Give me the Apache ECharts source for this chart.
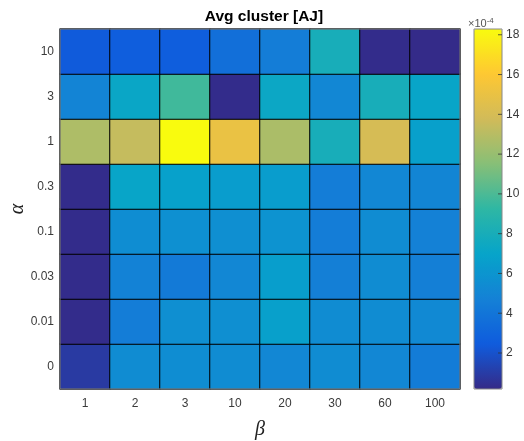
<!DOCTYPE html>
<html>
<head>
<meta charset="utf-8">
<script src="https://cdn.jsdelivr.net/npm/echarts@6/dist/echarts.min.js"></script>
<style>html,body{margin:0;padding:0;background:#fff}#c{width:524px;height:441px}</style>
</head>
<body>
<div id="c"></div>
<script>
// beta categories (x), alpha categories (y, bottom to top)
const betaLabels = ['1', '2', '3', '10', '20', '30', '60', '100'];
const alphaLabels = ['0', '0.01', '0.03', '0.1', '0.3', '1', '3', '10'];
// values x1e-4, rows from alpha=0 (bottom) to alpha=10 (top)
const row_0    = [0.9, 5.4, 5.5, 5.4, 5.1, 5.4, 5.1, 4.4];
const row_001  = [0.3, 4.5, 5.6, 5.6, 6.7, 5.4, 5.4, 5.2];
const row_003  = [0.3, 4.8, 4.3, 5.1, 6.6, 4.6, 5.4, 4.6];
const row_01   = [0.3, 5.5, 5.7, 5.6, 5.9, 4.5, 5.4, 4.7];
const row_03   = [0.3, 7.1, 6.8, 6.5, 6.5, 4.5, 5.1, 5.0];
const row_1    = [12.7, 13.4, 18.29, 15.0, 12.6, 8.0, 14.0, 6.7];
const row_3    = [4.9, 7.2, 9.7, 0.3, 7.3, 5.1, 8.0, 7.1];
const row_10   = [2.4, 2.6, 2.6, 3.6, 4.5, 8.0, 0.3, 0.25];
const rows = [row_0, row_001, row_003, row_01, row_03, row_1, row_3, row_10];
// colorbar range and ticks (x1e-4)
const cbMin = 0.19, cbMax = 18.29;
const cbTicks = [2, 4, 6, 8, 10, 12, 14, 16, 18];
const parula = ['#352A87', '#0F5CDD', '#1481D6', '#06A4CA', '#2EB7A4', '#87BF77', '#D1BB59', '#FEC832', '#F9FB0E'];

const data = [];
rows.forEach((r, yi) => r.forEach((v, xi) => data.push([xi, yi, v])));
const tickMarks = cbTicks.map(t => [1, t]);

const chart = echarts.init(document.getElementById('c'), null, {renderer: 'canvas'});
const labelColor = '#3a3a3a';
chart.setOption({
  animation: false,
  backgroundColor: '#fff',
  title: {
    text: 'Avg cluster [AJ]', left: 259, top: 4, textAlign: 'center',
    textStyle: {fontFamily: 'Liberation Sans', fontSize: 15.5, fontWeight: 'bold', color: '#000'}
  },
  grid: [
    {left: 60, right: 64, top: 29, bottom: 52, show: true, borderColor: '#888', borderWidth: 1,
     backgroundColor: 'transparent', z: 3, containLabel: false, outerBoundsMode: 'none'},
    {left: 474, right: 22, top: 29, bottom: 52, show: true, borderColor: '#888', borderWidth: 1,
     backgroundColor: 'transparent', z: 10, containLabel: false, outerBoundsMode: 'none'}
  ],
  xAxis: [
    {type: 'category', data: betaLabels, gridIndex: 0,
     axisLine: {show: false}, axisTick: {show: false}, splitLine: {show: false},
     axisLabel: {color: labelColor, fontFamily: 'Liberation Sans', fontSize: 12, margin: 9},
     name: 'β', nameLocation: 'middle', nameGap: 31, nameMoveOverlap: false,
     nameTextStyle: {fontFamily: 'Liberation Serif', fontStyle: 'italic', fontSize: 20, color: '#222'}},
    {type: 'value', gridIndex: 1, show: false, min: 0, max: 1}
  ],
  yAxis: [
    {type: 'category', data: alphaLabels, gridIndex: 0,
     axisLine: {show: false}, axisTick: {show: false}, splitLine: {show: false},
     axisLabel: {color: labelColor, fontFamily: 'Liberation Sans', fontSize: 12, margin: 6},
     name: 'α', nameLocation: 'middle', nameGap: 32, nameRotate: 90, nameMoveOverlap: false,
     nameTextStyle: {fontFamily: 'Liberation Serif', fontStyle: 'italic', fontSize: 20, color: '#222'}},
    {type: 'value', gridIndex: 1, position: 'right', min: cbMin, max: cbMax, z: 20,
     axisLine: {show: false}, splitLine: {show: false}, axisTick: {show: false},
     axisLabel: {show: true, customValues: cbTicks, color: labelColor, fontFamily: 'Liberation Sans', fontSize: 12, margin: 4}}
  ],
  visualMap: {
    type: 'continuous', min: cbMin, max: cbMax, calculable: false, seriesIndex: 0,
    left: 474, top: 29, itemWidth: 28, itemHeight: 360, text: ['', ''], textGap: 0,
    inRange: {color: parula}, padding: 0, z: 2
  },
  graphic: [{
    type: 'text', left: 468, top: 17, z: 20,
    style: {
      text: '{a|×10}{b|-4}',
      rich: {
        a: {fontFamily: 'Liberation Sans', fontSize: 11, fill: '#555'},
        b: {fontFamily: 'Liberation Sans', fontSize: 8, fill: '#555', verticalAlign: 'top', padding: [0, 0, 6, 0]}
      }
    }
  }],
  series: [{
    type: 'heatmap', xAxisIndex: 0, yAxisIndex: 0, data: data,
    itemStyle: {borderColor: '#000', borderWidth: 1},
    emphasis: {disabled: true}
  }, {
    type: 'scatter', xAxisIndex: 1, yAxisIndex: 1, data: tickMarks, silent: true, z: 20,
    symbol: 'rect', symbolSize: [4, 1], symbolOffset: [-2, 0],
    itemStyle: {color: '#333'}
  }]
});
</script>
</body>
</html>
